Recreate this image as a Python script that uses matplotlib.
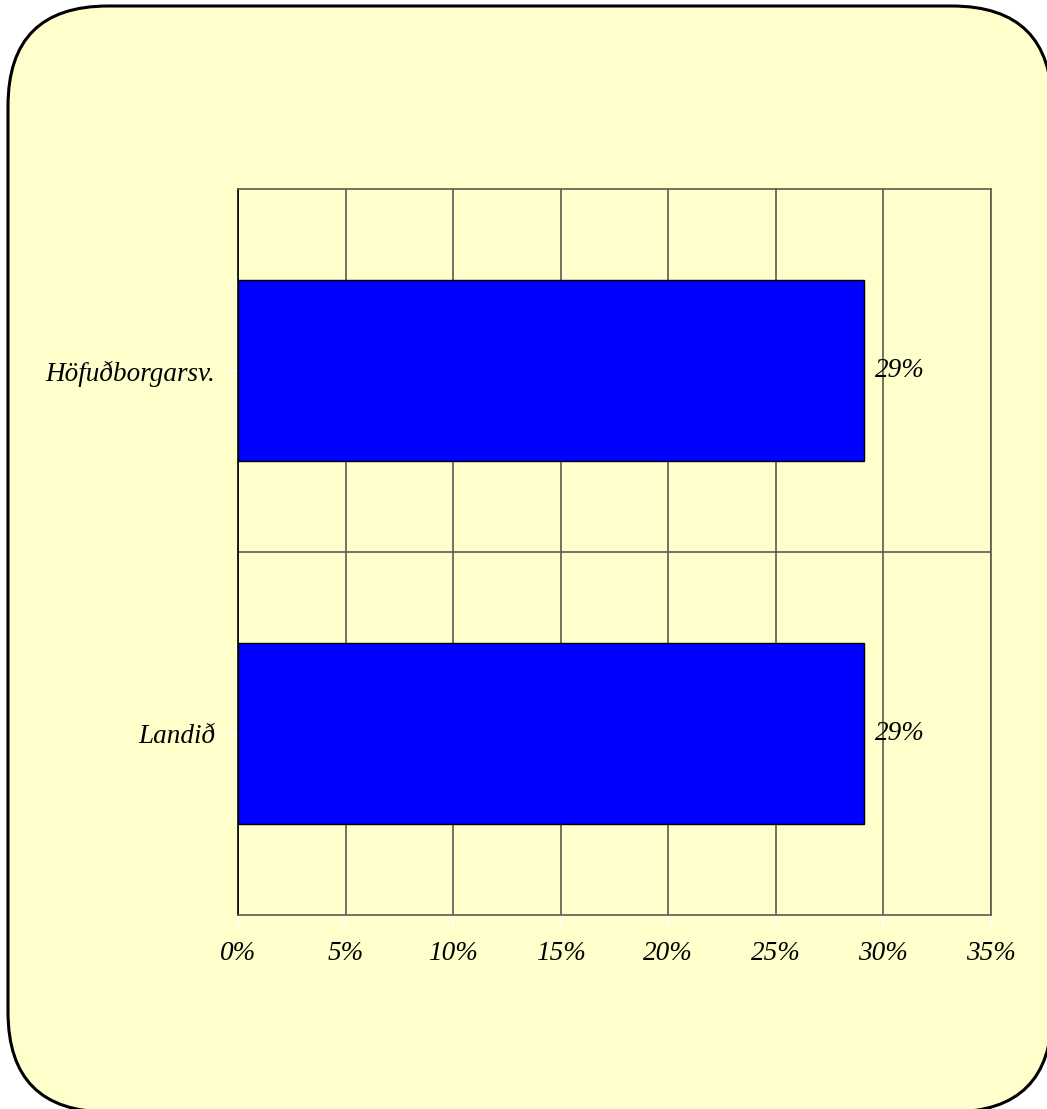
import matplotlib.pyplot as plt
from matplotlib.patches import FancyBboxPatch
import numpy as np

# Data
categories = ['Landið', 'Höfuðborgarsv.']
values = [29.1, 29.1]
xticks = [0, 5, 10, 15, 20, 25, 30, 35]

plt.rcParams['font.family'] = ['Liberation Serif', 'DejaVu Serif']

fig = plt.figure(figsize=(10.47, 11.09), dpi=100)

# Rounded yellow background panel (pixel coordinates)
bg = fig.add_axes([0, 0, 1, 1], zorder=-1)
bg.set_xlim(0, 1047)
bg.set_ylim(1109, 0)
bg.axis('off')
panel = FancyBboxPatch((8, 6), 1044, 1106, boxstyle='round,pad=0,rounding_size=100',
                       facecolor='#FFFFCC', edgecolor='black', linewidth=2.2,
                       clip_on=False)
bg.add_patch(panel)

# Bar chart
ax = fig.add_axes([238 / 1047, 1 - 915 / 1109, 753 / 1047, 726 / 1109])
ax.set_facecolor('#FFFFCC')
y = np.arange(len(categories))
bars = ax.barh(y, values, height=0.5, color='#0000FF', edgecolor='black',
               linewidth=1, zorder=3)

for bar, v in zip(bars, values):
    ax.text(bar.get_width() + 0.5, bar.get_y() + bar.get_height() / 2,
            f'{v:.0f}%', ha='left', va='center', fontsize=19.5,
            fontstyle='italic', zorder=4)

ax.set_xlim(0, 35)
ax.set_ylim(-0.5, 1.5)
ax.set_xticks(xticks)
ax.set_xticklabels([f'{t}%' for t in xticks], fontsize=19.5, fontstyle='italic')
ax.set_yticks(y)
ax.set_yticklabels(categories, fontsize=19.5, fontstyle='italic')
ax.set_yticks([0.5], minor=True)

ax.grid(True, axis='x', color='#5a5a50', linewidth=1.2, zorder=1)
ax.grid(True, axis='y', which='minor', color='#5a5a50', linewidth=1.2, zorder=1)
ax.set_axisbelow(True)

ax.tick_params(axis='x', length=8, color='white', width=1.2, pad=11)
ax.tick_params(axis='y', which='major', length=7, color='white', width=1.2, pad=9.5)
ax.tick_params(axis='y', which='minor', length=0)

for side in ['top', 'right', 'bottom']:
    ax.spines[side].set_color('#5a5a50')
    ax.spines[side].set_linewidth(1.2)
ax.spines['left'].set_color('black')
ax.spines['left'].set_linewidth(1.2)

fig.savefig('out.png', dpi=100)
